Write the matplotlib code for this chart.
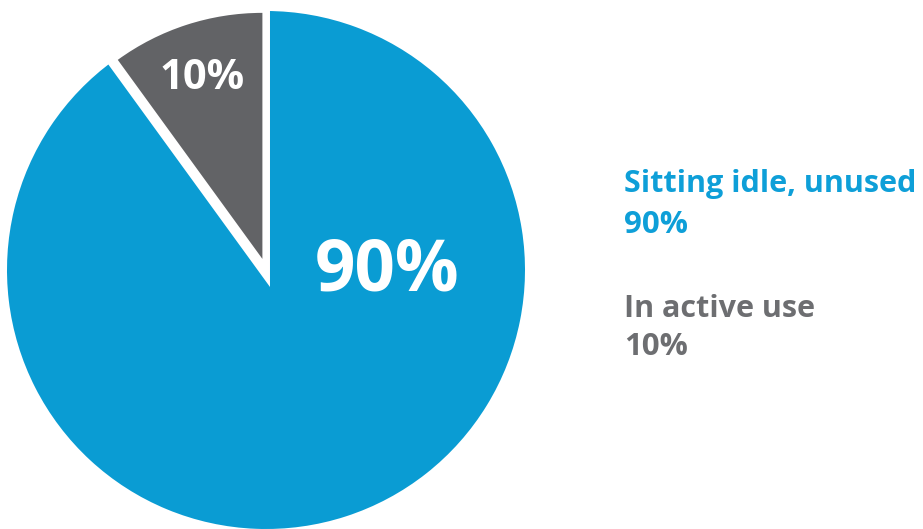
import matplotlib.pyplot as plt
from matplotlib.patches import Wedge

labels = ["In active use", "Sitting idle, unused"]
values = [10, 90]
colors = ["#626366", "#0A9CD3"]
text_colors = ["#6D6E71", "#0E9FD8"]

plt.rcParams['font.family'] = ['Open Sans', 'DejaVu Sans']

W, H = 923, 529
fig = plt.figure(figsize=(W / 100, H / 100), dpi=100)
ax = fig.add_axes([7 / W, 0, 518 / W, 518 / H])

wedges, _ = ax.pie(values, colors=colors, startangle=90, counterclock=True,
                   explode=[0.045, 0], wedgeprops=dict(linewidth=0))
gray = wedges[0]
gray.set_radius(0.95)
gray.set_zorder(3)

# white gap cut around the small slice
gap = Wedge((0.0154, -0.0656), 1.1, gray.theta1, gray.theta2,
            facecolor="white", linewidth=0, zorder=2)
ax.add_patch(gap)

ax.set_xlim(-1, 1)
ax.set_ylim(-1, 1)
ax.set_aspect('equal')
ax.axis('off')

ax.text(-0.245, 0.741, f"{values[0]}%", color="white", fontsize=30,
        fontweight='bold', ha='center', va='center', zorder=5)
ax.text(0.467, -0.004, f"{values[1]}%", color="white", fontsize=51,
        fontweight='bold', ha='center', va='center', zorder=5)

# legend-like labels on the right
rows = [(1, 192, 233), (0, 317, 355)]
for i, y1, y2 in rows:
    fig.text(624 / W, 1 - y1 / H, labels[i], color=text_colors[i], fontsize=22,
             fontweight='bold', ha='left', va='baseline')
    fig.text(624 / W, 1 - y2 / H, f"{values[i]}%", color=text_colors[i], fontsize=22.5,
             fontweight='bold', ha='left', va='baseline')

fig.savefig("out.png", dpi=100)
